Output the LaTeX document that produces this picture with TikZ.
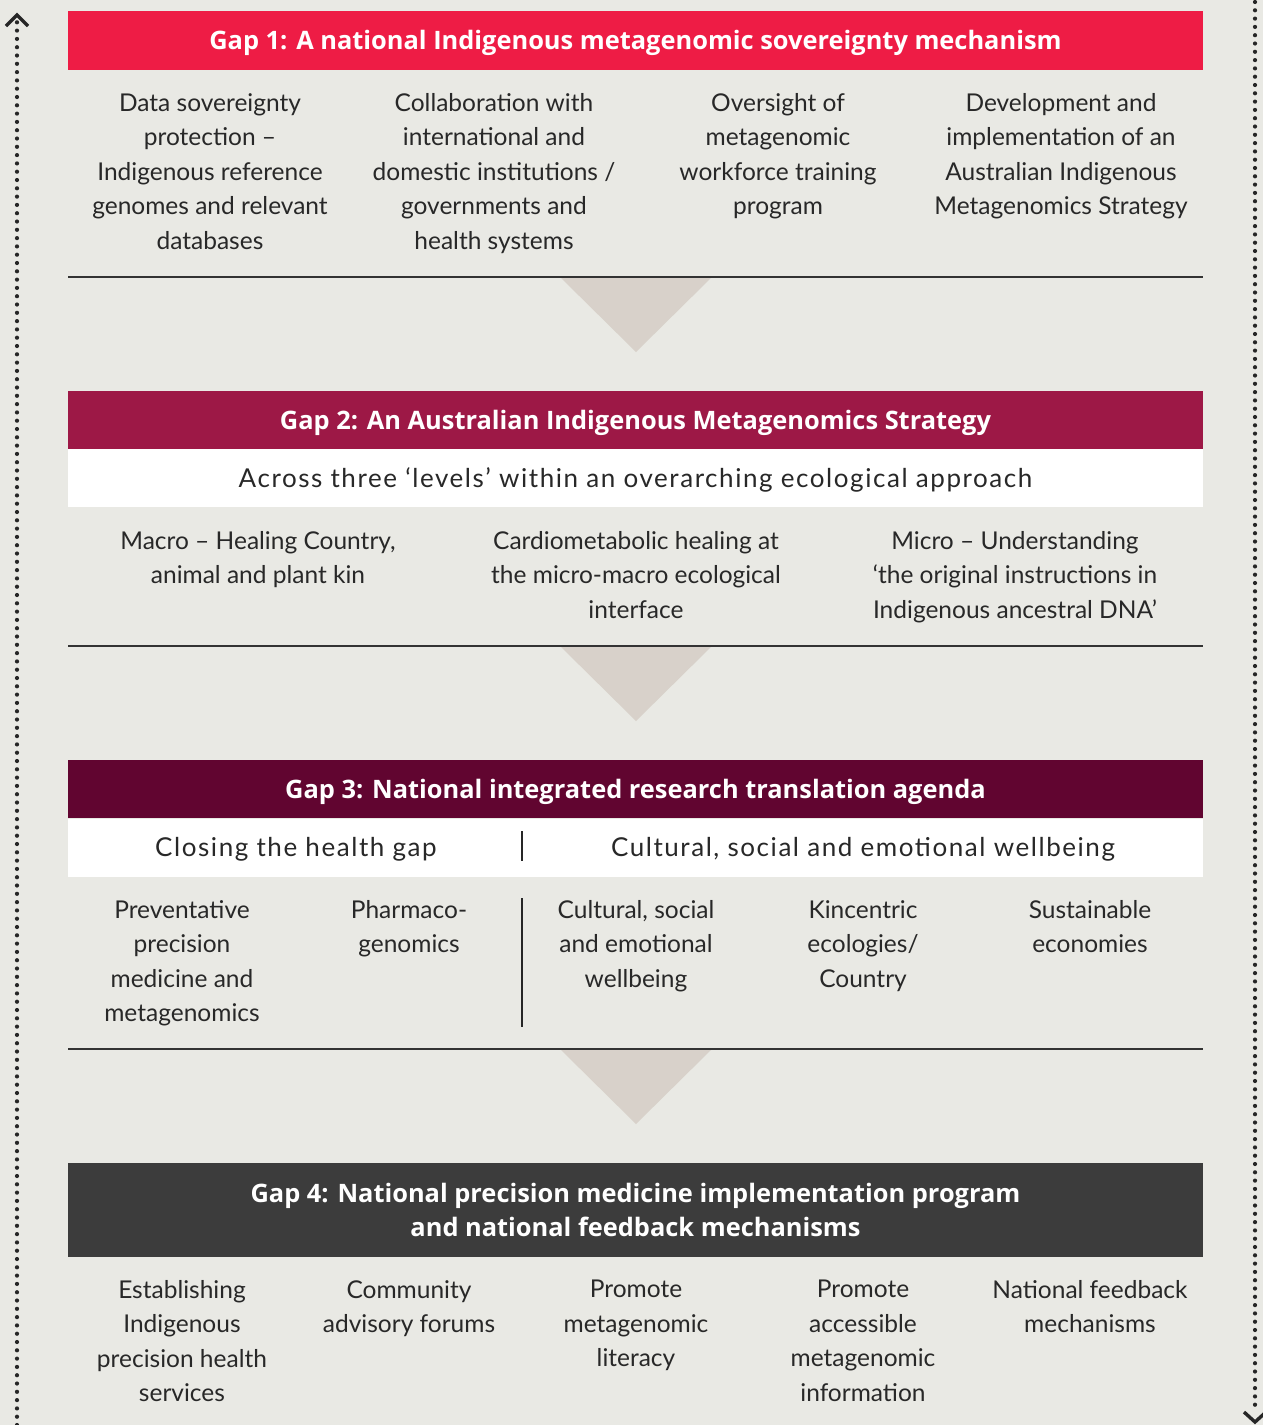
\documentclass[tikz,border=0pt]{standalone}
\usepackage{fontspec}
\setmainfont{Lato}
\newfontfamily\hdrfam{Open Sans}
\definecolor{bgc}{RGB}{233,233,228}
\definecolor{gapa}{RGB}{238,28,69}
\definecolor{gapb}{RGB}{157,24,70}
\definecolor{gapc}{RGB}{97,5,48}
\definecolor{gapd}{RGB}{60,60,60}
\definecolor{tri}{RGB}{216,209,202}
\definecolor{txt}{RGB}{40,40,40}
\newcommand\myBody{\fontsize{24.5}{34.5}\selectfont}
\newcommand\myHdr{\hdrfam\fontsize{25.4}{34}\selectfont\bfseries}
\newcommand\myBand{\fontsize{26}{30}\selectfont\addfontfeature{LetterSpace=6}}
\tikzset{
  hdrbox/.style={fill=#1, minimum width=1135pt, inner sep=0pt},
  hdrtxt/.style={inner sep=0pt, text=white, font=\myHdr, align=center},
  band/.style={fill=white, minimum width=1135pt, minimum height=58pt, inner sep=0pt},
  bandtxt/.style={text=txt, font=\myBand, inner sep=0pt},
  body/.style={text=txt, font=\myBody, align=center, anchor=north, inner sep=0pt},
  rule/.style={draw=black!80, line width=1.6pt},
  arrowtri/.style={fill=tri, draw=none},
  dots/.style={line width=4.2pt, line cap=round, dash pattern=on 0pt off 8.3pt, draw=black!85},
  chev/.style={line width=3.4pt, draw=black!85}
}
\begin{document}
\begin{tikzpicture}[x=1pt,y=-1pt]
\useasboundingbox (0,0) rectangle (1263,1425);
\fill[bgc] (0,0) rectangle (1263,1425);

% side arrows
\coordinate (ltop) at (17,22);
\coordinate (lbot) at (17,1425);
\draw[dots] (lbot) -- (ltop);
\draw[chev] (6,26) -- (17,15) -- (28,26);
\coordinate (rtop) at (1255,2);
\coordinate (rbot) at (1255,1410);
\draw[dots] (rtop) -- (rbot);
\draw[chev] (1244,1412) -- (1255,1422) -- (1266,1412);

% ---------- Gap 1
\node[hdrbox=gapa, minimum height=59pt] (g1box) at (635.5,40.5) {};
\node[hdrtxt] (g1) at (635.5,42.5) {Gap 1: A national Indigenous metagenomic sovereignty mechanism};
\node[body] (g1a) at (210,93) {Data sovereignty\\protection –\\Indigenous reference\\genomes and relevant\\databases};
\node[body] (g1b) at (494,93) {Collaboration with\\international and\\domestic institutions /\\governments and\\health systems};
\node[body] (g1c) at (778,93) {Oversight of\\metagenomic\\workforce training\\program};
\node[body] (g1d) at (1061,93) {Development and\\implementation of an\\Australian Indigenous\\Metagenomics Strategy};
\fill[arrowtri] (560,277) -- (712,277) -- (636,352) -- cycle;
\draw[rule] (68,277) -- (1203,277);

% ---------- Gap 2
\node[hdrbox=gapb, minimum height=58pt] (g2box) at (635.5,420) {};
\node[hdrtxt] (g2) at (635.5,422.5) {Gap 2: An Australian Indigenous Metagenomics Strategy};
\node[band] (b2) at (635.5,478) {};
\node[bandtxt] (b2t) at (635.5,480) {Across three ‘levels’ within an overarching ecological approach};
\node[body] (g2a) at (258,531) {Macro – Healing Country,\\animal and plant kin};
\node[body] (g2b) at (636,531) {Cardiometabolic healing at\\the micro-macro ecological\\interface};
\node[body] (g2c) at (1015,531) {Micro – Understanding\\‘the original instructions in\\Indigenous ancestral DNA’};
\fill[arrowtri] (560,646) -- (712,646) -- (636,721) -- cycle;
\draw[rule] (68,646) -- (1203,646);

% ---------- Gap 3
\node[hdrbox=gapc, minimum height=58pt] (g3box) at (635.5,789) {};
\node[hdrtxt] (g3) at (635.5,791.5) {Gap 3: National integrated research translation agenda};
\node[band] (b3) at (635.5,847.5) {};
\node[bandtxt] (b3a) at (296,849) {Closing the health gap};
\node[bandtxt] (b3b) at (863,849) {Cultural, social and emotional wellbeing};
\draw[line width=1.4pt, black!85] (522,831) -- (522,861);
\node[body] (g3a) at (182,900) {Preventative\\precision\\medicine and\\metagenomics};
\node[body] (g3b) at (409,900) {Pharmaco-\\genomics};
\node[body] (g3c) at (636,900) {Cultural, social\\and emotional\\wellbeing};
\node[body] (g3d) at (863,900) {Kincentric\\ecologies/\\Country};
\node[body] (g3e) at (1090,900) {Sustainable\\economies};
\draw[line width=1.4pt, black!85] (522,898) -- (522,1027);
\fill[arrowtri] (560,1049) -- (712,1049) -- (636,1124) -- cycle;
\draw[rule] (68,1049) -- (1203,1049);

% ---------- Gap 4
\node[hdrbox=gapd, minimum height=94pt] (g4box) at (635.5,1210) {};
\node[hdrtxt] (g4) at (635.5,1209.5) {Gap 4: National precision medicine implementation program\\and national feedback mechanisms};
\node[body] (g4a) at (182,1280) {Establishing\\Indigenous\\precision health\\services};
\node[body] (g4b) at (409,1280) {Community\\advisory forums};
\node[body] (g4c) at (636,1280) {Promote\\metagenomic\\literacy};
\node[body] (g4d) at (863,1280) {Promote\\accessible\\metagenomic\\information};
\node[body] (g4e) at (1090,1280) {National feedback\\mechanisms};
\end{tikzpicture}
\end{document}
